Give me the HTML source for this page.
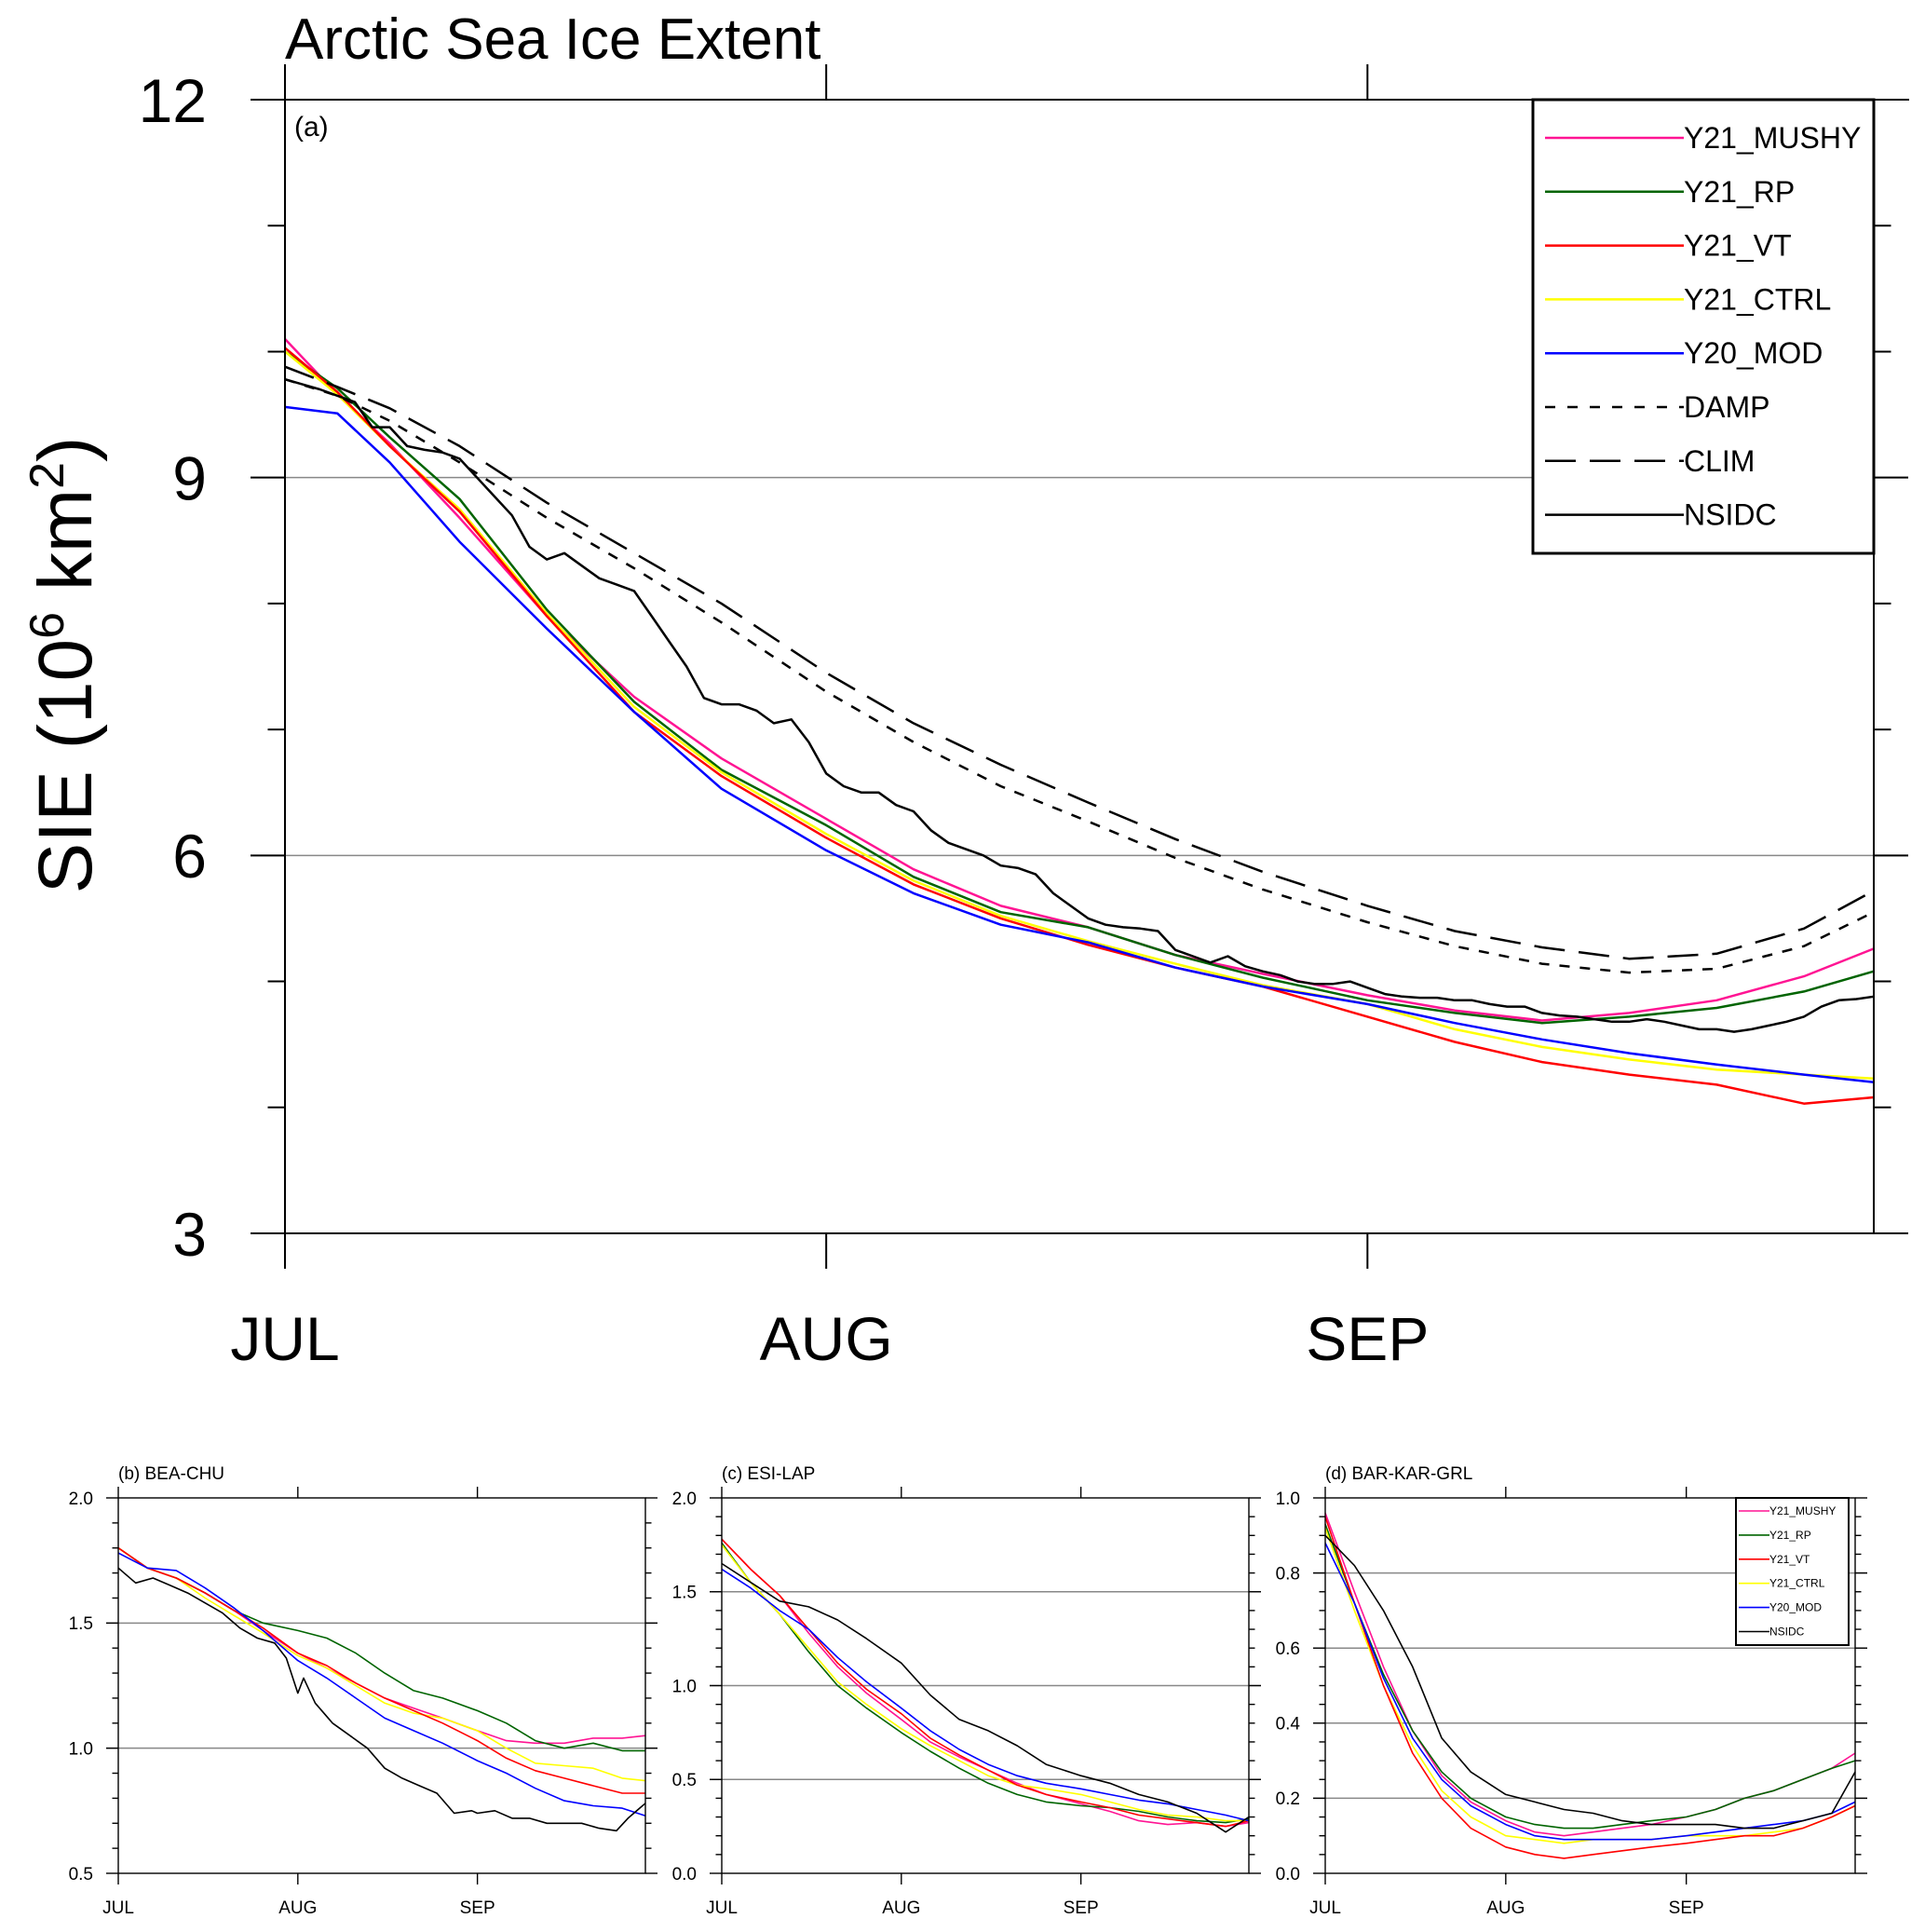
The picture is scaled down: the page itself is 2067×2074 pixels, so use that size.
<!DOCTYPE html>
<html><head><meta charset="utf-8">
<style>
html,body{margin:0;padding:0;background:#fff;}
svg{display:block;font-family:"Liberation Sans",Arial,sans-serif;}
</style></head>
<body>
<svg id="chart" width="2067" height="2074" viewBox="0 0 2067 2074" xmlns="http://www.w3.org/2000/svg"></svg>
<script>
// ---------- DATA ----------
const sampleDays = [0,3,6,10,15,20,25,31,36,41,46,51,56,62,67,72,77,82,87,91];
const mainMushy = [10.10,9.66,9.27,8.68,7.90,7.26,6.77,6.29,5.89,5.60,5.43,5.21,5.06,4.89,4.77,4.69,4.75,4.85,5.04,5.26];
const mainRp    = [10.0,9.71,9.32,8.83,7.95,7.22,6.68,6.24,5.83,5.55,5.43,5.21,5.03,4.85,4.75,4.67,4.72,4.79,4.92,5.08];
const mainVt    = [10.03,9.68,9.25,8.73,7.90,7.14,6.63,6.14,5.77,5.50,5.29,5.11,4.96,4.72,4.52,4.36,4.26,4.18,4.03,4.08];
const mainCtrl  = [10.0,9.66,9.25,8.75,7.92,7.18,6.66,6.17,5.80,5.52,5.32,5.14,4.97,4.82,4.62,4.48,4.38,4.30,4.26,4.23];
const mainMod   = [9.56,9.51,9.12,8.49,7.80,7.14,6.53,6.04,5.70,5.45,5.31,5.11,4.96,4.82,4.67,4.54,4.43,4.34,4.26,4.20];
const mainDamp  = [9.78,9.65,9.45,9.12,8.68,8.28,7.85,7.30,6.90,6.55,6.27,5.98,5.73,5.47,5.28,5.14,5.07,5.10,5.28,5.55];
const mainClim  = [9.88,9.72,9.55,9.25,8.80,8.40,8.00,7.45,7.05,6.72,6.42,6.13,5.87,5.60,5.40,5.27,5.18,5.22,5.42,5.72];
const mainNsidc = [9.78,9.74,9.70,9.65,9.60,9.40,9.40,9.25,9.22,9.20,9.15,9.00,8.85,8.70,8.45,8.35,8.40,8.30,8.20,8.15,
  8.10,7.90,7.70,7.50,7.25,7.20,7.20,7.15,7.05,7.08,6.90,6.65,6.55,6.50,6.50,6.40,6.35,6.20,6.10,6.05,
  6.00,5.92,5.90,5.85,5.70,5.60,5.50,5.45,5.43,5.42,5.40,5.25,5.20,5.15,5.20,5.12,5.08,5.05,5.00,4.98,
  4.98,5.00,4.95,4.90,4.88,4.87,4.87,4.85,4.85,4.82,4.80,4.80,4.75,4.73,4.72,4.70,4.68,4.68,4.70,4.68,
  4.65,4.62,4.62,4.60,4.62,4.65,4.68,4.72,4.80,4.85,4.86,4.88];
const yTicksMain = [3,6,9,12];
const monthLabels = ["JUL","AUG","SEP"];
const monthDays = [0,31,62];

const smallDays = [0,5,10,15,20,25,31,36,41,46,51,56,62,67,72,77,82,87,91];
const bMushy = [1.8,1.72,1.68,1.62,1.55,1.47,1.38,1.32,1.26,1.2,1.16,1.12,1.07,1.03,1.02,1.02,1.04,1.04,1.05];
const bRp    = [1.8,1.72,1.68,1.62,1.55,1.5,1.47,1.44,1.38,1.3,1.23,1.2,1.15,1.1,1.03,1.0,1.02,0.99,0.99];
const bVt    = [1.8,1.72,1.68,1.62,1.55,1.48,1.38,1.33,1.26,1.2,1.15,1.1,1.03,0.96,0.91,0.88,0.85,0.82,0.82];
const bCtrl  = [1.8,1.72,1.68,1.6,1.53,1.46,1.37,1.32,1.25,1.18,1.14,1.12,1.07,1.0,0.94,0.93,0.92,0.88,0.87];
const bMod   = [1.78,1.72,1.71,1.64,1.56,1.47,1.35,1.28,1.2,1.12,1.07,1.02,0.95,0.9,0.84,0.79,0.77,0.76,0.73];
const bNsidcDays = [0,3,6,9,12,15,18,21,24,27,29,31,32,34,37,40,43,46,49,52,55,58,61,62,65,68,71,74,77,80,83,86,88,90,91];
const bNsidc = [1.72,1.66,1.68,1.65,1.62,1.58,1.54,1.48,1.44,1.42,1.36,1.22,1.28,1.18,1.1,1.05,1.0,0.92,0.88,0.85,0.82,0.74,0.75,0.74,0.75,0.72,0.72,0.7,0.7,0.7,0.68,0.67,0.72,0.76,0.78];
const cMushy = [1.78,1.62,1.48,1.28,1.1,0.96,0.82,0.7,0.62,0.55,0.48,0.42,0.37,0.33,0.28,0.26,0.27,0.25,0.27];
const cRp    = [1.76,1.55,1.38,1.18,1.0,0.88,0.75,0.65,0.56,0.48,0.42,0.38,0.36,0.35,0.33,0.3,0.28,0.27,0.29];
const cVt    = [1.78,1.62,1.48,1.3,1.12,0.98,0.85,0.72,0.63,0.55,0.47,0.42,0.38,0.35,0.31,0.29,0.27,0.25,0.28];
const cCtrl  = [1.75,1.55,1.38,1.2,1.02,0.9,0.77,0.68,0.6,0.52,0.47,0.45,0.42,0.38,0.34,0.31,0.3,0.28,0.28];
const cMod   = [1.62,1.52,1.4,1.3,1.15,1.02,0.88,0.76,0.66,0.58,0.52,0.48,0.45,0.42,0.39,0.37,0.34,0.31,0.28];
const cNsidc = [1.65,1.55,1.45,1.42,1.35,1.25,1.12,0.95,0.82,0.76,0.68,0.58,0.52,0.48,0.42,0.38,0.32,0.22,0.3];
const dMushy = [0.96,0.75,0.55,0.38,0.26,0.19,0.14,0.11,0.10,0.11,0.12,0.13,0.15,0.17,0.2,0.22,0.25,0.28,0.32];
const dRp    = [0.93,0.72,0.53,0.38,0.27,0.2,0.15,0.13,0.12,0.12,0.13,0.14,0.15,0.17,0.2,0.22,0.25,0.28,0.3];
const dVt    = [0.95,0.72,0.5,0.32,0.2,0.12,0.07,0.05,0.04,0.05,0.06,0.07,0.08,0.09,0.1,0.1,0.12,0.15,0.18];
const dCtrl  = [0.92,0.7,0.5,0.34,0.22,0.15,0.1,0.09,0.08,0.09,0.09,0.09,0.1,0.1,0.1,0.11,0.12,0.15,0.18];
const dMod   = [0.88,0.72,0.52,0.36,0.25,0.18,0.13,0.1,0.09,0.09,0.09,0.09,0.1,0.11,0.12,0.13,0.14,0.16,0.19];
const dNsidc = [0.9,0.82,0.7,0.55,0.36,0.27,0.21,0.19,0.17,0.16,0.14,0.13,0.13,0.13,0.12,0.12,0.14,0.16,0.27];
const legendNames = ["Y21_MUSHY","Y21_RP","Y21_VT","Y21_CTRL","Y20_MOD","DAMP","CLIM","NSIDC"];

// ---------- HELPERS ----------
const NS = "http://www.w3.org/2000/svg";
const svg = document.getElementById("chart");
function mk(tag, attrs, parent){
  const e = document.createElementNS(NS, tag);
  for (const k in attrs) e.setAttribute(k, attrs[k]);
  (parent||svg).appendChild(e);
  return e;
}
function line(x1,y1,x2,y2,stroke,w,parent){
  return mk("line",{x1:x1,y1:y1,x2:x2,y2:y2,stroke:stroke,"stroke-width":w},parent);
}
function text(x,y,str,size,anchor,parent){
  const t = mk("text",{x:x,y:y,"font-size":size,"text-anchor":anchor||"start",fill:"#000"},parent);
  t.textContent = str;
  return t;
}
const COLORS = {mushy:"#ff1493",rp:"#006400",vt:"#ff0000",ctrl:"#ffff00",mod:"#0000ff",k:"#000"};

function panel(cfg){
  const g = mk("g",{});
  
  
  const X = d => cfg.L + (cfg.R-cfg.L)*d/91;
  const Y = v => cfg.B - (cfg.B-cfg.T)*(v-cfg.ymin)/(cfg.ymax-cfg.ymin);
  cfg.grid.forEach(v=>{
    const gl = line(cfg.L-cfg.tick, Y(v), cfg.R+cfg.tick, Y(v), "#888", cfg.gw, g);
    
    
  });
  cfg.series.forEach(s=>{
    const pts = s.vals.map((v,i)=>X(s.days[i]).toFixed(1)+","+Y(v).toFixed(1)).join(" ");
    const p = mk("polyline",{points:pts,fill:"none",stroke:s.color,"stroke-width":cfg.lw,"stroke-linejoin":"round"},g);
    if (s.dash) p.setAttribute("stroke-dasharray", s.dash);
    
    
  });
  const fr = mk("rect",{x:cfg.L,y:cfg.T,width:cfg.R-cfg.L,height:cfg.B-cfg.T,fill:"none",stroke:"#000","stroke-width":cfg.fw},g);
  
  
  for (let v=cfg.ymin; v<=cfg.ymax+1e-9; v+=cfg.minor){
    const major = cfg.yticks.some(t=>Math.abs(t-v)<1e-6);
    const len = major ? cfg.tick : cfg.tick*0.5;
    line(cfg.L-len, Y(v), cfg.L, Y(v), "#000", cfg.fw, g);
    line(cfg.R, Y(v), cfg.R+len, Y(v), "#000", cfg.fw, g);
  }
  const ylab = mk("g",{},g);
  
  
  cfg.yticks.forEach(v=>{
    text(cfg.L-cfg.ylabOff, Y(v)+cfg.yfs*0.36, cfg.fmt(v), cfg.yfs, "end", ylab);
  });
  const xlab = mk("g",{},g);
  
  
  monthDays.forEach((d,i)=>{
    line(X(d), cfg.B, X(d), cfg.B+cfg.xtick, "#000", cfg.fw, g);
    line(X(d), cfg.T, X(d), cfg.T-cfg.xtick, "#000", cfg.fw, g);
    text(X(d), cfg.xlabY, monthLabels[i], cfg.xfs, "middle", xlab);
  });
  const lbl = text(cfg.L+cfg.lblDx, cfg.lblY, cfg.label, cfg.lfs, "start", g);
  
  
  return {g:g,X:X,Y:Y};
}

// ---------- MAIN PANEL ----------
const mainSeries = [
  {name:"series-y21-mushy",color:COLORS.mushy,vals:mainMushy,days:sampleDays},
  {name:"series-y21-rp",color:COLORS.rp,vals:mainRp,days:sampleDays},
  {name:"series-y21-ctrl",color:COLORS.ctrl,vals:mainCtrl,days:sampleDays},
  {name:"series-y21-vt",color:COLORS.vt,vals:mainVt,days:sampleDays},
  {name:"series-y20-mod",color:COLORS.mod,vals:mainMod,days:sampleDays},
  {name:"series-damp",color:"#000",vals:mainDamp,days:sampleDays,dash:"11 11"},
  {name:"series-clim",color:"#000",vals:mainClim,days:sampleDays,dash:"33 15"},
  {name:"series-nsidc",color:"#000",vals:mainNsidc,days:mainNsidc.map((_,i)=>i)}
];
panel({name:"main-panel-a",L:306,R:2012,T:107,B:1324,ymin:3,ymax:12,yticks:yTicksMain,minor:1,grid:[6,9],
  tick:37,gw:1.5,lw:2.5,fw:2,ylabOff:84,yfs:66,fmt:v=>String(v),xtick:38,xlabY:1460,xfs:66,
  label:"(a)",lblDx:10,lblY:146,lfs:30,series:mainSeries});
line(269,107,306,107,"#000",2);
line(2012,107,2050,107,"#000",2);

const title = text(306,63,"Arctic Sea Ice Extent",62,"start");



const yt = mk("text",{x:0,y:0,"font-size":82,"text-anchor":"middle",transform:"translate(98,714) rotate(-90)"});


yt.innerHTML = 'SIE (10<tspan dy="-30" font-size="52">6</tspan><tspan dy="30"> km</tspan><tspan dy="-30" font-size="52">2</tspan><tspan dy="30">)</tspan>';

const leg = mk("g",{});


mk("rect",{x:1646,y:107,width:366,height:487,fill:"#fff",stroke:"#000","stroke-width":3},leg);
const legColors = [COLORS.mushy,COLORS.rp,COLORS.vt,COLORS.ctrl,COLORS.mod,"#000","#000","#000"];
const legDash = [null,null,null,null,null,"11 13","33 15",null];
legendNames.forEach((n,i)=>{
  const y = 148 + i*57.8;
  const e = mk("g",{},leg);
  
  
  const l = line(1659,y,1808,y,legColors[i],2.5,e);
  if (legDash[i]) l.setAttribute("stroke-dasharray",legDash[i]);
  text(1808,y+11,n,32,"start",e);
});

// ---------- SMALL PANELS ----------
function mkSeries(m,r,v,c,o,n,nd){
  return [
    {name:"series-y21-mushy",color:COLORS.mushy,vals:m,days:smallDays},
    {name:"series-y21-rp",color:COLORS.rp,vals:r,days:smallDays},
    {name:"series-y21-ctrl",color:COLORS.ctrl,vals:c,days:smallDays},
    {name:"series-y21-vt",color:COLORS.vt,vals:v,days:smallDays},
    {name:"series-y20-mod",color:COLORS.mod,vals:o,days:smallDays},
    {name:"series-nsidc",color:"#000",vals:n,days:nd}
  ];
}
const smallCommon = {T:1608,B:2011,tick:13,gw:1.5,lw:1.6,fw:1.4,ylabOff:27,yfs:19,xtick:12,xlabY:2054,xfs:19,lblDx:0,lblY:1588,lfs:19};
panel(Object.assign({},smallCommon,{name:"panel-b-bea-chu",L:127,R:693,ymin:0.5,ymax:2.0,yticks:[0.5,1.0,1.5,2.0],minor:0.1,grid:[1.0,1.5],
  fmt:v=>v.toFixed(1),label:"(b) BEA-CHU",series:mkSeries(bMushy,bRp,bVt,bCtrl,bMod,bNsidc,bNsidcDays)}));
panel(Object.assign({},smallCommon,{name:"panel-c-esi-lap",L:775,R:1341,ymin:0,ymax:2.0,yticks:[0,0.5,1.0,1.5,2.0],minor:0.1,grid:[0.5,1.0,1.5],
  fmt:v=>v.toFixed(1),label:"(c) ESI-LAP",series:mkSeries(cMushy,cRp,cVt,cCtrl,cMod,cNsidc,smallDays)}));
panel(Object.assign({},smallCommon,{name:"panel-d-bar-kar-grl",L:1423,R:1992,ymin:0,ymax:1.0,yticks:[0,0.2,0.4,0.6,0.8,1.0],minor:0.05,grid:[0.2,0.4,0.6,0.8],
  fmt:v=>v.toFixed(1),label:"(d) BAR-KAR-GRL",series:mkSeries(dMushy,dRp,dVt,dCtrl,dMod,dNsidc,smallDays)}));

const leg2 = mk("g",{});


mk("rect",{x:1864,y:1608,width:121,height:158,fill:"#fff",stroke:"#000","stroke-width":2},leg2);
const smallLegNames = ["Y21_MUSHY","Y21_RP","Y21_VT","Y21_CTRL","Y20_MOD","NSIDC"];
const smallLegColors = [COLORS.mushy,COLORS.rp,COLORS.vt,COLORS.ctrl,COLORS.mod,"#000"];
smallLegNames.forEach((n,i)=>{
  const y = 1622 + i*25.9;
  const e = mk("g",{},leg2);
  
  
  line(1867,y,1900,y,smallLegColors[i],1.6,e);
  text(1900,y+4,n,12,"start",e);
});
</script>
</body></html>
